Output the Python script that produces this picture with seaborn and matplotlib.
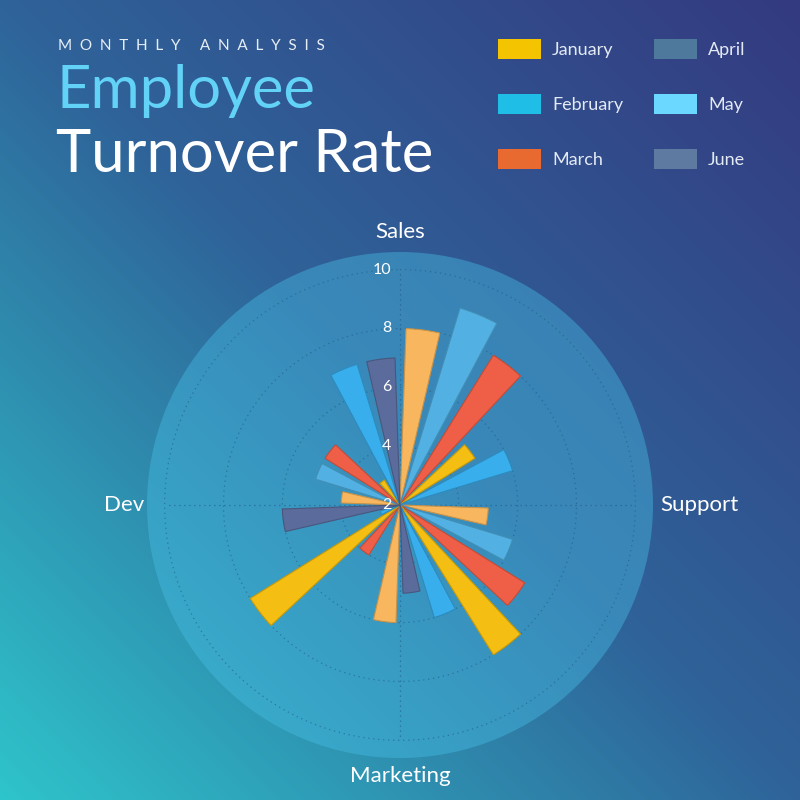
import numpy as np
import matplotlib
matplotlib.use("Agg")
import matplotlib.pyplot as plt
import seaborn as sns
from matplotlib.colors import LinearSegmentedColormap, to_rgb
from matplotlib.patches import Patch

categories = ["Sales", "Support", "Marketing", "Dev"]
months = ["January", "February", "March", "April", "May", "June"]

# turnover rate (%) per department: Sales, Support, Marketing, Dev
january = [8.0, 5.0, 6.0, 4.0]
february = [9.0, 6.0, 2.0, 5.0]
march = [8.0, 7.0, 4.0, 5.0]
april = [5.0, 8.0, 8.0, 3.0]
may = [6.0, 6.0, 2.7, 7.0]
june = [2.0, 5.0, 6.0, 7.0]

radial_ticks = [2, 4, 6, 8, 10]

bar_colors = ["#F8B75E", "#52B1E2", "#EF5F47", "#F4BF12", "#38AEEC", "#5B6C9C"]
legend_colors = ["#F5C400", "#1EBEE6", "#E86A30", "#4F789D", "#6BD9FF", "#5E7AA0"]

sns.set_theme(style="white")
plt.rcParams["font.family"] = ["Lato", "DejaVu Sans"]

fig = plt.figure(figsize=(8, 8), dpi=100)

# diagonal gradient background
bg = fig.add_axes([0, 0, 1, 1], zorder=0)
gx, gy = np.meshgrid(np.linspace(0, 1, 400), np.linspace(0, 1, 400))
cmap = LinearSegmentedColormap.from_list("bg", ["#2EC4CB", "#2F6399", "#343A80"])
bg.imshow((gx + gy) / 2, cmap=cmap, origin="lower", extent=[0, 1, 0, 1], aspect="auto")
bg.axis("off")

rmin, rmax = 2, 10.6
ax = fig.add_axes([0.18375, 0.0525, 0.6325, 0.6325], projection="polar", zorder=1)
ax.set_theta_zero_location("N")
ax.set_theta_direction(-1)
ax.set_ylim(rmin, rmax)
ax.set_facecolor((0.28, 0.745, 0.9, 0.42))
ax.spines["polar"].set_visible(False)
ax.grid(False)
ax.set_xticks([])
ax.set_yticks([])

n_cat, n_ser = len(categories), len(months)
sector = 2 * np.pi / n_cat
slot = sector / n_ser

# dotted grid
circ = np.linspace(0, 2 * np.pi, 361)
for r in radial_ticks[1:]:
    ax.plot(circ, np.full_like(circ, r), ls=(0, (1, 3)), color="#1f5a85", lw=0.9, alpha=0.6, zorder=2)
for k in range(n_cat):
    ax.plot([k * sector] * 2, [rmin, radial_ticks[-1]], ls=(0, (1, 3)), color="#1f5a85", lw=0.9, alpha=0.7, zorder=2)

series = [january, february, march, april, may, june]
for j, (vals, col) in enumerate(zip(series, bar_colors)):
    theta = np.arange(n_cat) * sector + (j + 0.5) * slot
    edge = tuple(c * 0.8 for c in to_rgb(col))
    ax.bar(theta, np.array(vals) - rmin, width=slot * 0.74, bottom=rmin,
           color=col, edgecolor=edge, linewidth=0.8, zorder=3)

for r in radial_ticks:
    ax.annotate(str(r), xy=(0, r), xytext=(-6, 0), textcoords="offset points",
                ha="right", va="center", color="white", fontsize=11.5, zorder=6)

# department labels around the disc
for k, name in enumerate(categories):
    ang = k * sector
    s, c = np.sin(ang), np.cos(ang)
    if abs(s) < 0.1:
        ha = "center"
        va = "baseline" if c > 0 else "top"
        off = (0, 10) if c > 0 else (0, -6)
    else:
        ha = "left" if s > 0 else "right"
        va = "center"
        off = (5, 0) if s > 0 else (-2, 0)
    ax.annotate(name, xy=(ang, rmax), xytext=off, textcoords="offset points",
                ha=ha, va=va, color="white", fontsize=16, annotation_clip=False)

# titles
fig.text(0.0725, 1 - 46 / 800, "  ".join("MONTHLY ANALYSIS"), color="#E6EEF5",
         fontsize=11, va="center", ha="left")
fig.text(0.0705, 1 - 108 / 800, "Employee", color="#62D2F7", fontsize=43,
         va="baseline", ha="left")
fig.text(0.0705, 1 - 172 / 800, "Turnover Rate", color="white", fontsize=43,
         va="baseline", ha="left")

handles = [Patch(facecolor=c, edgecolor="none") for c in legend_colors]
fig.legend(handles, months, ncol=2, loc="upper left", bbox_to_anchor=(0.6225, 0.951),
           frameon=False, fontsize=13, labelcolor="#E3EAF3", handlelength=2.4,
           handleheight=1.3, handletextpad=0.6, labelspacing=1.95, columnspacing=1.7,
           borderpad=0, borderaxespad=0)

fig.savefig("out.png", dpi=100)
